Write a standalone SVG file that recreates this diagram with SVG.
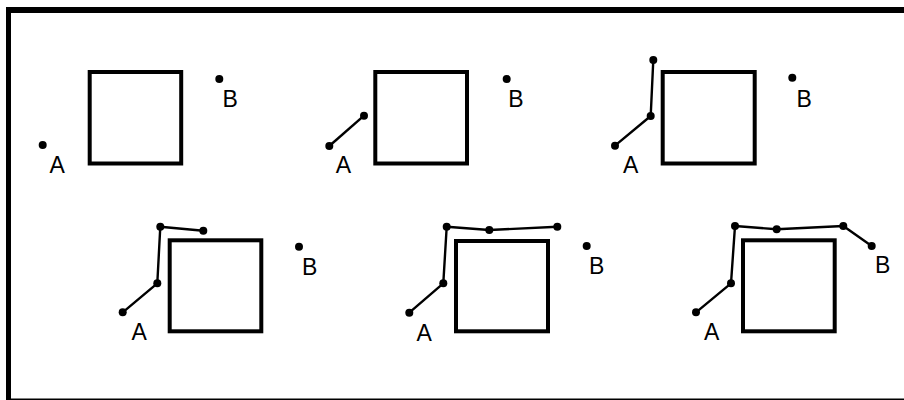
<svg xmlns="http://www.w3.org/2000/svg" width="904" height="400" viewBox="0 0 904 400">
<style>
.sq{fill:none;stroke:#000;stroke-width:4}
.ln{fill:none;stroke:#000;stroke-width:2.4;stroke-linejoin:round}
.dt{fill:#000}
.lb{font-family:"Liberation Sans",Arial,sans-serif;font-size:23px;fill:#000}
</style>
<rect width="904" height="400" fill="#fff"/>
<g id="frame">
<rect x="6" y="7" width="898" height="6" fill="#000"/>
<rect x="6" y="7" width="5" height="393" fill="#000"/>
<rect x="6" y="398.5" width="898" height="1.5" fill="#000"/>
</g>
<g id="panel1">
<rect class="sq" x="89.7" y="72" width="91.5" height="91.5"/>
<circle class="dt" cx="42.7" cy="145" r="4"/>
<circle class="dt" cx="219.3" cy="79" r="4"/>
<text class="lb" x="49.5" y="172.7">A</text>
<text class="lb" x="222.5" y="107">B</text>
</g>
<g id="panel2">
<rect class="sq" x="375.3" y="72" width="91.7" height="91.5"/>
<g class="connectors"><polyline class="ln" points="329.3,146 364,115.7"/></g>
<circle class="dt" cx="329.3" cy="146" r="4"/>
<circle class="dt" cx="364" cy="115.7" r="4"/>
<circle class="dt" cx="506.7" cy="79" r="4"/>
<text class="lb" x="335.7" y="173">A</text>
<text class="lb" x="508.2" y="107">B</text>
</g>
<g id="panel3">
<rect class="sq" x="662.7" y="72" width="92" height="91.5"/>
<g class="connectors"><polyline class="ln" points="615,145.7 650.7,116 653.3,60"/></g>
<circle class="dt" cx="615" cy="145.7" r="4"/>
<circle class="dt" cx="650.7" cy="116" r="4"/>
<circle class="dt" cx="653.3" cy="60" r="4"/>
<circle class="dt" cx="792.3" cy="77.7" r="4"/>
<text class="lb" x="623" y="173">A</text>
<text class="lb" x="796.5" y="106.7">B</text>
</g>
<g id="panel4">
<rect class="sq" x="169.7" y="240.3" width="91.6" height="91"/>
<g class="connectors"><polyline class="ln" points="122.7,312.3 157.3,283.3 160.3,226.7 203.3,230.7"/></g>
<circle class="dt" cx="122.7" cy="312.3" r="4"/>
<circle class="dt" cx="157.3" cy="283.3" r="4"/>
<circle class="dt" cx="160.3" cy="226.7" r="4"/>
<circle class="dt" cx="203.3" cy="230.7" r="4"/>
<circle class="dt" cx="299" cy="246.7" r="4"/>
<text class="lb" x="131.5" y="340">A</text>
<text class="lb" x="302" y="275">B</text>
</g>
<g id="panel5">
<rect class="sq" x="456" y="241" width="92" height="90.3"/>
<g class="connectors"><polyline class="ln" points="409.3,312.7 443.3,283.3 446.7,226.7 489.3,230 557.3,226.7"/></g>
<circle class="dt" cx="409.3" cy="312.7" r="4"/>
<circle class="dt" cx="443.3" cy="283.3" r="4"/>
<circle class="dt" cx="446.7" cy="226.7" r="4"/>
<circle class="dt" cx="489.3" cy="230" r="4"/>
<circle class="dt" cx="557.3" cy="226.7" r="4"/>
<circle class="dt" cx="586.7" cy="246" r="4"/>
<text class="lb" x="416.5" y="340.5">A</text>
<text class="lb" x="589" y="274">B</text>
</g>
<g id="panel6">
<rect class="sq" x="743" y="240.3" width="91.7" height="91"/>
<g class="connectors"><polyline class="ln" points="696,312.3 731,283.3 735,226 776.7,229.3 843.3,226 871.7,246"/></g>
<circle class="dt" cx="696" cy="312.3" r="4"/>
<circle class="dt" cx="731" cy="283.3" r="4"/>
<circle class="dt" cx="735" cy="226" r="4"/>
<circle class="dt" cx="776.7" cy="229.3" r="4"/>
<circle class="dt" cx="843.3" cy="226" r="4"/>
<circle class="dt" cx="871.7" cy="246" r="4"/>
<text class="lb" x="704" y="340">A</text>
<text class="lb" x="875" y="273.3">B</text>
</g>
</svg>
